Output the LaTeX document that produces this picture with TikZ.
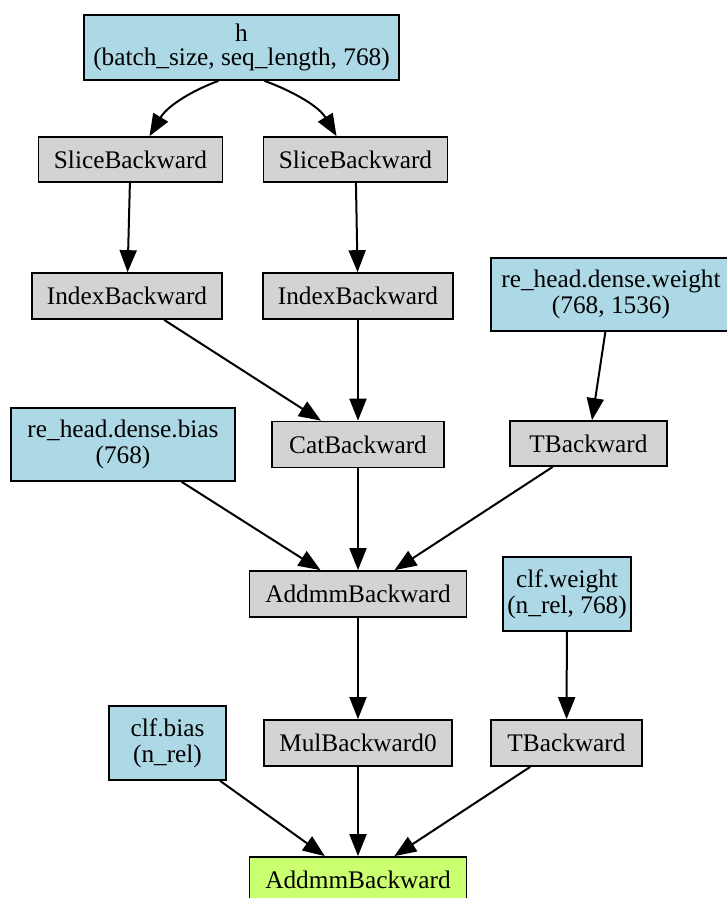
\documentclass[tikz,border=0pt]{standalone}
\usepackage{fontspec}
\setmainfont{Liberation Serif}
\usetikzlibrary{arrows.meta,calc}
\definecolor{leafblue}{HTML}{ADD8E6}
\definecolor{opgrey}{HTML}{D3D3D3}
\definecolor{rootgreen}{HTML}{CAFF70}
\begin{document}
\begin{tikzpicture}[x=1pt,y=-1pt,
  box/.style={draw=black, line width=1.7pt, rectangle, inner sep=0pt, align=center,
              font=\fontsize{25.3}{26}\selectfont},
  leaf/.style={box, fill=leafblue},
  opbox/.style={box, fill=opgrey},
  rootbox/.style={box, fill=rootgreen},
  link/.style={line width=2pt, -{Triangle[length=22pt,width=17pt]}}
]
\clip (0,0) rectangle (727,898);

% inputs and parameters
\node[leaf, minimum width=315, minimum height=65] (h) at (241.5,47.5)
  {h\\[-2pt](batch\_size, seq\_length, 768)};
\node[leaf, minimum width=240, minimum height=73] (w) at (611,294.5)
  {re\_head.dense.weight\\(768, 1536)};
\node[leaf, minimum width=224, minimum height=73] (bias) at (123,444.5)
  {re\_head.dense.bias\\(768)};
\node[leaf, minimum width=128, minimum height=74] (cw) at (567,594)
  {clf.weight\\(n\_rel, 768)};
\node[leaf, minimum width=117, minimum height=74] (cb) at (167.5,743)
  {clf.bias\\(n\_rel)};

% backward operations
\node[opbox, minimum width=184, minimum height=45] (s1) at (130.5,159.5) {SliceBackward};
\node[opbox, minimum width=184, minimum height=45] (s2) at (355.5,159.5) {SliceBackward};
\node[opbox, minimum width=190, minimum height=46] (i1) at (127,296) {IndexBackward};
\node[opbox, minimum width=190, minimum height=46] (i2) at (358,296) {IndexBackward};
\node[opbox, minimum width=172, minimum height=46] (cat) at (358,444.5) {CatBackward};
\node[opbox, minimum width=157, minimum height=45] (t1) at (588.5,443.5) {TBackward};
\node[opbox, minimum width=217, minimum height=46] (am) at (358,594) {AddmmBackward};
\node[opbox, minimum width=188, minimum height=46] (mul) at (358,743) {MulBackward0};
\node[opbox, minimum width=151, minimum height=46] (t2) at (566.5,743) {TBackward};
\node[rootbox, minimum width=217, minimum height=46] (fin) at (358,880) {AddmmBackward};

% connectors
\draw[link] ($(h.south)+(-23,0)$) .. controls ($(h.south)+(-45,8)$) and ($(s1.north)+(38,-32)$) .. ($(s1.north)+(19,0)$);
\draw[link] ($(h.south)+(23,0)$) .. controls ($(h.south)+(45,8)$) and ($(s2.north)+(-38,-32)$) .. ($(s2.north)+(-19,0)$);
\draw[link] (s1) -- (i1);
\draw[link] (s2) -- (i2);
\draw[link] (i1) -- (cat);
\draw[link] (i2) -- (cat);
\draw[link] (w) -- (t1);
\draw[link] (bias) -- (am);
\draw[link] (cat) -- (am);
\draw[link] (t1) -- (am);
\draw[link] (am) -- (mul);
\draw[link] (cw) -- (t2);
\draw[link] (cb) -- (fin);
\draw[link] (mul) -- (fin);
\draw[link] (t2) -- (fin);
\end{tikzpicture}
\end{document}
